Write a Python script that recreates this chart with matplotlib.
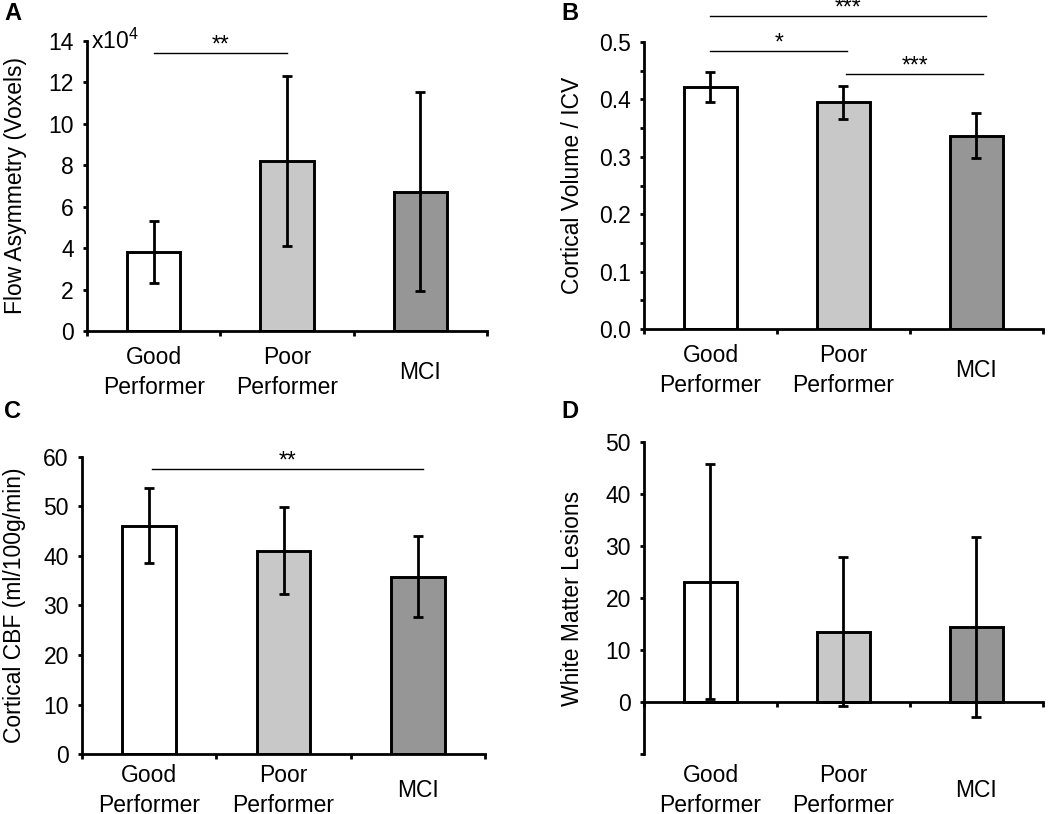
import matplotlib.pyplot as plt
from matplotlib.ticker import MultipleLocator, FormatStrFormatter

plt.rcParams['font.family'] = ['Liberation Sans', 'DejaVu Sans']
plt.rcParams['mathtext.default'] = 'regular'

# data
categories = ['Good\nPerformer', 'Poor\nPerformer', 'MCI']
bar_colors = ['white', '#c8c8c8', '#969696']

flow_mean = [3.83, 8.21, 6.73]   # x10^4 voxels
flow_err = [1.5, 4.1, 4.8]

vol_mean = [0.422, 0.395, 0.337]
vol_err = [0.026, 0.029, 0.039]

cbf_mean = [46.1, 41.1, 35.8]
cbf_err = [7.6, 8.7, 8.2]

wml_mean = [23.1, 13.5, 14.5]
wml_err = [22.6, 14.3, 17.3]

# significance brackets: (x start, x end, height, stars)
sig_a = [(0, 1, 13.4, '**')]
sig_b = [(0, 2.07, 0.545, '***'), (0, 1.03, 0.484, '*'), (1.02, 2.05, 0.445, '***')]
sig_c = [(0.02, 2.04, 57.6, '**')]

FS = 16.5

fig = plt.figure(figsize=(10.5, 8.14), dpi=100)


def panel(rect, means, errs, ylim, step, ylabel, label_x, sigs=(), fmt='%d', cat_off=-30):
    ax = fig.add_axes(rect)
    x = range(len(categories))
    ax.bar(x, means, width=0.4, color=bar_colors, edgecolor='black', linewidth=2.1,
           yerr=errs, error_kw=dict(ecolor='black', elinewidth=2, capsize=3.5, capthick=2))
    ax.set_xlim(-0.5, 2.5)
    ax.set_ylim(*ylim)
    ax.yaxis.set_major_locator(MultipleLocator(step))
    ax.yaxis.set_major_formatter(FormatStrFormatter(fmt))
    for s in ['top', 'right']:
        ax.spines[s].set_visible(False)
    for s in ['left', 'bottom']:
        ax.spines[s].set_linewidth(2)
    ax.set_xticks([-0.5, 0.5, 1.5, 2.5])
    ax.tick_params(axis='x', direction='out', length=3.5, width=2, labelbottom=False)
    ax.tick_params(axis='y', which='both', direction='out', length=3, width=2,
                   labelsize=FS, pad=6.5)
    for i, c in enumerate(categories):
        ax.annotate(c, xy=(i, 0), xycoords=('data', 'axes fraction'), xytext=(0, cat_off),
                    textcoords='offset points', ha='center', va='center', fontsize=FS,
                    linespacing=1.4)
    ax.set_ylabel(ylabel, fontsize=FS)
    ax.yaxis.set_label_coords(label_x, 0.5)
    for x0, x1, h, stars in sigs:
        ax.plot([x0, x1], [h, h], color='black', lw=1, clip_on=False)
        ax.annotate(stars, xy=((x0 + x1) / 2, h), xytext=(0, -2.5), textcoords='offset points',
                    ha='center', va='bottom', fontsize=FS, annotation_clip=False)
    return ax


ax_a = panel([0.0829, 0.5934, 0.381, 0.3563], flow_mean, flow_err, (0, 14), 2,
             'Flow Asymmetry (Voxels)', -0.15, sig_a)
ax_a.text(0.01, 1.0, r'x10$^{4}$', transform=ax_a.transAxes, ha='left', va='center', fontsize=FS)

ax_b = panel([0.6133, 0.5958, 0.380, 0.3526], vol_mean, vol_err, (0, 0.5), 0.1,
             'Cortical Volume / ICV', -0.15, sig_b, fmt='%.1f')
ax_b.yaxis.set_minor_locator(MultipleLocator(0.05))

ax_c = panel([0.0781, 0.0737, 0.3838, 0.3649], cbf_mean, cbf_err, (0, 60), 10,
             'Cortical CBF (ml/100g/min)', -0.139, sig_c, cat_off=-26)

ax_d = panel([0.6133, 0.0737, 0.380, 0.3833], wml_mean, wml_err, (-10, 50), 10,
             'White Matter Lesions', -0.15, cat_off=-26)
ax_d.spines['bottom'].set_position(('data', 0))
ax_d.set_yticks(range(-10, 51, 10))
ax_d.set_yticklabels([''] + [str(v) for v in range(0, 51, 10)])

for lx, ly, letter in [(0.004, 0.998, 'A'), (0.535, 0.998, 'B'), (0.004, 0.508, 'C'), (0.535, 0.508, 'D')]:
    fig.text(lx, ly, letter, fontsize=17, fontweight='bold', ha='left', va='top')

fig.savefig('out.png', dpi=100)
